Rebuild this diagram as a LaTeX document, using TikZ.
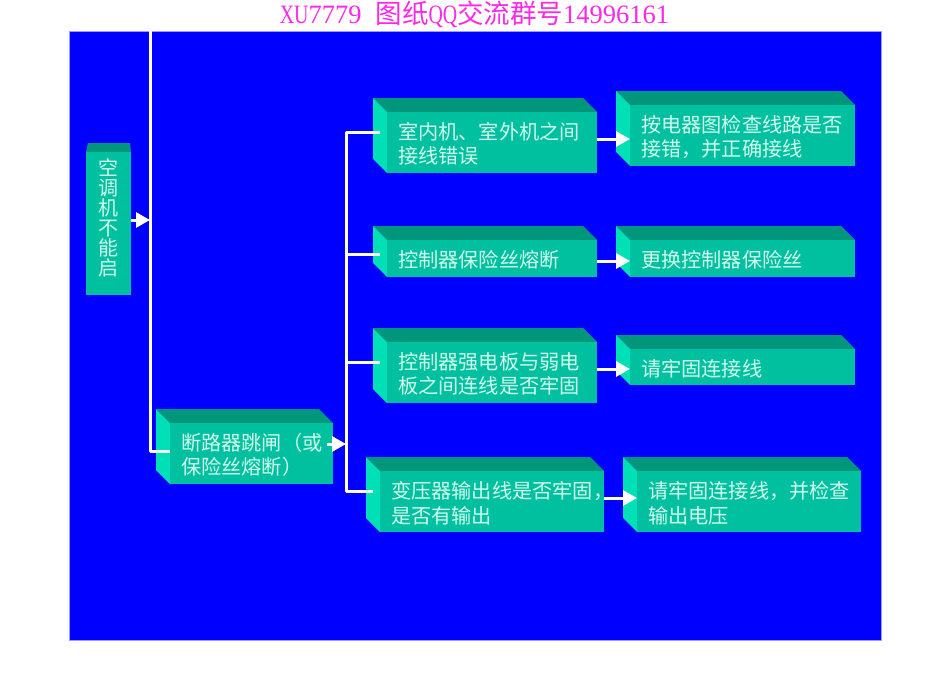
\documentclass[tikz,border=0pt]{standalone}
\usepackage{fontspec}
\setmainfont{Noto Sans CJK SC}
\newfontfamily\ttl{Liberation Serif}
\newfontfamily\ttll{Liberation Serif}[FakeStretch=0.75]
\newfontfamily\cjkttl{Noto Sans CJK SC}
\usetikzlibrary{arrows.meta}
\definecolor{cfront}{RGB}{0,192,160}
\definecolor{ctop}{RGB}{0,150,124}
\definecolor{cside}{RGB}{0,224,182}
\definecolor{ctext}{RGB}{210,250,236}
\definecolor{cedge}{RGB}{153,153,255}
\definecolor{ctitle}{RGB}{255,40,230}
\tikzset{
 frontbox/.style={fill=cfront,anchor=north west,inner sep=0pt,outer sep=0pt,text=ctext,
   font=\fontsize{20.2}{24.5}\selectfont},
 wire/.style={draw=white,line width=3pt,line join=round},
 arr/.style={wire,-{Triangle[length=14pt,width=15pt]}},
}
% \cube{name}{x0}{y0}{x1}{y1}{text}
\newcommand{\cube}[6]{%
 \fill[ctop] (#2,#3) -- (#4-14,#3) -- (#4,#3+14) -- (#2+14,#3+14) -- cycle;
 \fill[cside] (#2,#3) -- (#2+14,#3+14) -- (#2+14,#5) -- (#2,#5-14) -- cycle;
 \node[frontbox,minimum height={(#5-#3-14)*1pt},minimum width={(#4-#2-14)*1pt}] (#1) at (#2+14,#3+14)
   {\hspace*{11pt}\parbox[c]{\dimexpr #4pt-#2pt-25pt\relax}{\vspace{3pt}\raggedright #6}};
}
\begin{document}
\begin{tikzpicture}[x=1pt,y=-1pt]
\useasboundingbox (0,0) rectangle (950,672);
\fill[white] (0,0) rectangle (950,672);
\node[draw=cedge,fill=blue,line width=1pt,anchor=north west,minimum width=812pt,minimum height=609pt,inner sep=0pt] (bg) at (69,31) {};
\node[text=ctitle,font=\ttl\fontsize{26.5}{27}\selectfont,inner sep=0pt] (title) at (474.5,14) {{\ttll XU}7779\hspace{14pt}{\cjkttl 图纸}{\ttll QQ}{\cjkttl 交流群号}14996161};
% left box
\fill[ctop] (88,143) -- (130,143) -- (131,152) -- (86,152) -- cycle;
\node[fill=cfront,anchor=north west,minimum width=45pt,minimum height=143pt,inner sep=0pt,text=ctext,
  font=\fontsize{20}{20}\selectfont] (start) at (86,152)
  {\parbox[c]{45pt}{\centering 空\\调\\机\\不\\能\\启\par\vspace{11pt}}};
\cube{brk}{156}{409}{333}{484}{断路器跳闸（或\\保险丝熔断）}
\cube{a1}{373}{98}{597}{173}{室内机、室外机之间\\接线错误}
\cube{a2}{373}{226}{597}{277}{控制器保险丝熔断}
\cube{a3}{373}{328}{597}{403}{控制器强电板与弱电\\板之间连线是否牢固}
\cube{a4}{366}{457}{604}{532}{变压器输出线是否牢固，\\是否有输出}
\cube{b1}{616}{91}{855}{166}{按电器图检查线路是否\\接错，并正确接线}
\cube{b2}{616}{226}{855}{277}{更换控制器保险丝}
\cube{b3}{616}{335}{855}{385}{请牢固连接线}
\cube{b4}{623}{457}{861}{532}{请牢固连接线，并检查\\输出电压}
% connectors
\coordinate (top) at (150,31);
\coordinate (t1) at (346,132);
\coordinate (t2) at (346,254);
\coordinate (t3) at (346,362);
\coordinate (t4) at (346,491);
\coordinate (tb) at (346,444);
\coordinate (m) at (150,220);
\coordinate (lb) at (150,451);
\coordinate (r1) at (600,139);
\coordinate (r2) at (600,261);
\coordinate (r3) at (600,369);
\coordinate (r4) at (600,498);
\draw[wire] (top) -- (lb) -- (brk.west |- lb);
\draw[arr] (start.east |- m) -- (m);
\draw[arr] ([xshift=-6pt]brk.east |- tb) -- (tb);
\draw[wire] ([xshift=-7pt]a1.west |- t1) -- (t1) -- (t4) -- ([xshift=-7pt]a4.west |- t4);
\draw[wire] (t2) -- ([xshift=-7pt]a2.west |- t2);
\draw[wire] (t3) -- ([xshift=-7pt]a3.west |- t3);
\draw[arr] (a1.east |- r1) -- (b1.west |- r1);
\draw[arr] (a2.east |- r2) -- (b2.west |- r2);
\draw[arr] (a3.east |- r3) -- (b3.west |- r3);
\draw[arr] (a4.east |- r4) -- (b4.west |- r4);
\end{tikzpicture}
\end{document}
